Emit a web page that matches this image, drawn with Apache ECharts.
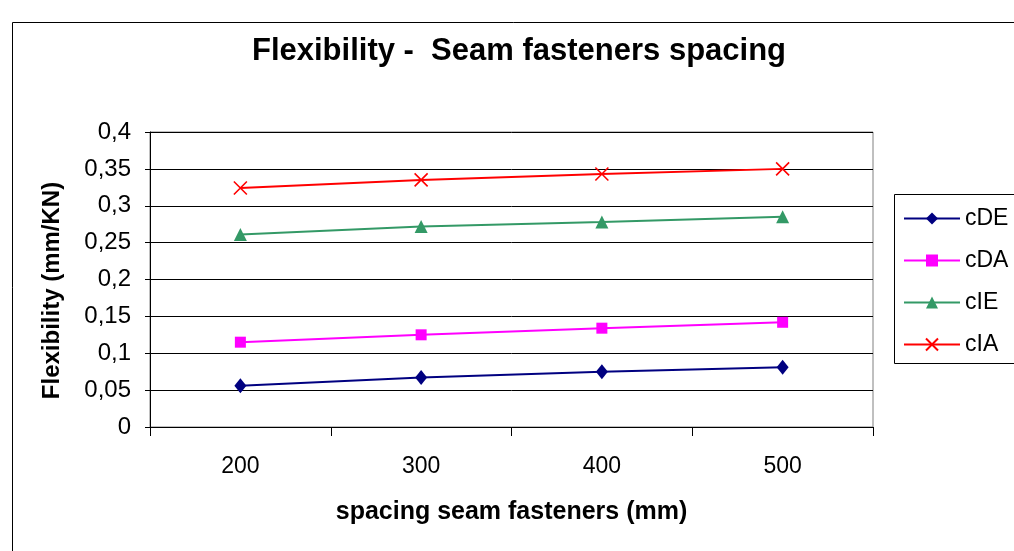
<!DOCTYPE html>
<html>
<head>
<meta charset="utf-8">
<style>
  html, body { margin: 0; padding: 0; background: #fff; }
  #chart { width: 1014px; height: 551px; }
</style>
<script src="https://cdn.jsdelivr.net/npm/echarts@6/dist/echarts.min.js"></script>
</head>
<body>
<div id="chart"></div>
<script>
// Seam fastener spacing (mm)
const categories = ['200', '300', '400', '500'];
// Flexibility values (mm/KN) per connection type
const cDE = [0.056, 0.067, 0.075, 0.081];
const cDA = [0.115, 0.125, 0.134, 0.142];
const cIE = [0.261, 0.272, 0.278, 0.285];
const cIA = [0.324, 0.335, 0.343, 0.350];
const yTicks = { min: 0, max: 0.4, step: 0.05 };

const FONT = '"Liberation Sans", Arial, sans-serif';
const crossPath = 'path://M0,0L10,10M10,0L0,10';

function lineSeries(name, data, color, symbol, size, extra) {
  return Object.assign({
    name: name,
    type: 'line',
    data: data,
    symbol: symbol,
    symbolSize: size,
    showAllSymbol: true,
    animation: false,
    lineStyle: { color: color, width: 2 },
    itemStyle: { color: color, borderWidth: 0 }
  }, extra || {});
}

const chart = echarts.init(document.getElementById('chart'), null, { renderer: 'canvas' });
chart.setOption({
  backgroundColor: '#ffffff',
  animation: false,
  textStyle: { fontFamily: FONT },
  graphic: [
    {
      type: 'rect',
      shape: { x: 12.5, y: 22.5, width: 1100, height: 600 },
      style: { fill: 'none', stroke: '#000', lineWidth: 1 },
      z: -10
    },
    {
      type: 'rect',
      shape: { x: 894.5, y: 194.5, width: 200, height: 169 },
      style: { fill: '#fff', stroke: '#000', lineWidth: 1 },
      z: -5
    },
    {
      type: 'text',
      x: 519,
      y: 51,
      style: {
        text: 'Flexibility -  Seam fasteners spacing',
        fontFamily: FONT,
        fontSize: 31,
        fontWeight: 'bold',
        fill: '#000',
        textAlign: 'center',
        textVerticalAlign: 'middle'
      }
    }
  ],
  grid: {
    left: 150, right: 141, top: 132, bottom: 124,
    show: true,
    borderColor: '#808080',
    borderWidth: 1,
    backgroundColor: 'transparent'
  },
  legend: {
    orient: 'vertical',
    left: 903,
    top: 207,
    itemWidth: 56,
    itemHeight: 15,
    itemGap: 19,
    padding: 0,
    textStyle: { fontFamily: FONT, fontSize: 23, color: '#000' },
    data: ['cDE', 'cDA', 'cIE', 'cIA']
  },
  xAxis: {
    type: 'category',
    data: categories,
    boundaryGap: true,
    name: 'spacing seam fasteners (mm)',
    nameLocation: 'middle',
    nameGap: 73,
    nameTextStyle: { fontFamily: FONT, fontSize: 25, fontWeight: 'bold', color: '#000' },
    axisLine: { lineStyle: { color: '#000', width: 1 } },
    axisTick: { show: true, length: 9, lineStyle: { color: '#000' } },
    axisLabel: { margin: 28, fontFamily: FONT, fontSize: 23, color: '#000' },
    splitLine: { show: false }
  },
  yAxis: {
    type: 'value',
    min: yTicks.min,
    max: yTicks.max,
    interval: yTicks.step,
    name: 'Flexibility (mm/KN)',
    nameLocation: 'middle',
    nameGap: 86,
    nameRotate: 90,
    nameTextStyle: {
      fontFamily: FONT, fontSize: 24, fontWeight: 'bold', color: '#000',
      padding: [0, 22, 0, 0]
    },
    axisLine: { show: true, lineStyle: { color: '#000', width: 1 } },
    axisTick: { show: true, length: 5, lineStyle: { color: '#000' } },
    axisLabel: {
      margin: 19,
      fontFamily: FONT,
      fontSize: 24,
      color: '#000',
      formatter: v => String(Math.round(v * 100) / 100).replace('.', ',')
    },
    splitLine: { show: true, lineStyle: { color: '#000', width: 1 } }
  },
  series: [
    lineSeries('cDE', cDE, '#000080', 'diamond', [12, 15]),
    lineSeries('cDA', cDA, '#ff00ff', 'rect', 11),
    lineSeries('cIE', cIE, '#339966', 'triangle', 13),
    lineSeries('cIA', cIA, '#ff0000', crossPath, 13, {
      itemStyle: { color: '#ff0000', borderColor: '#ff0000', borderWidth: 1.6 }
    })
  ]
});
</script>
</body>
</html>
